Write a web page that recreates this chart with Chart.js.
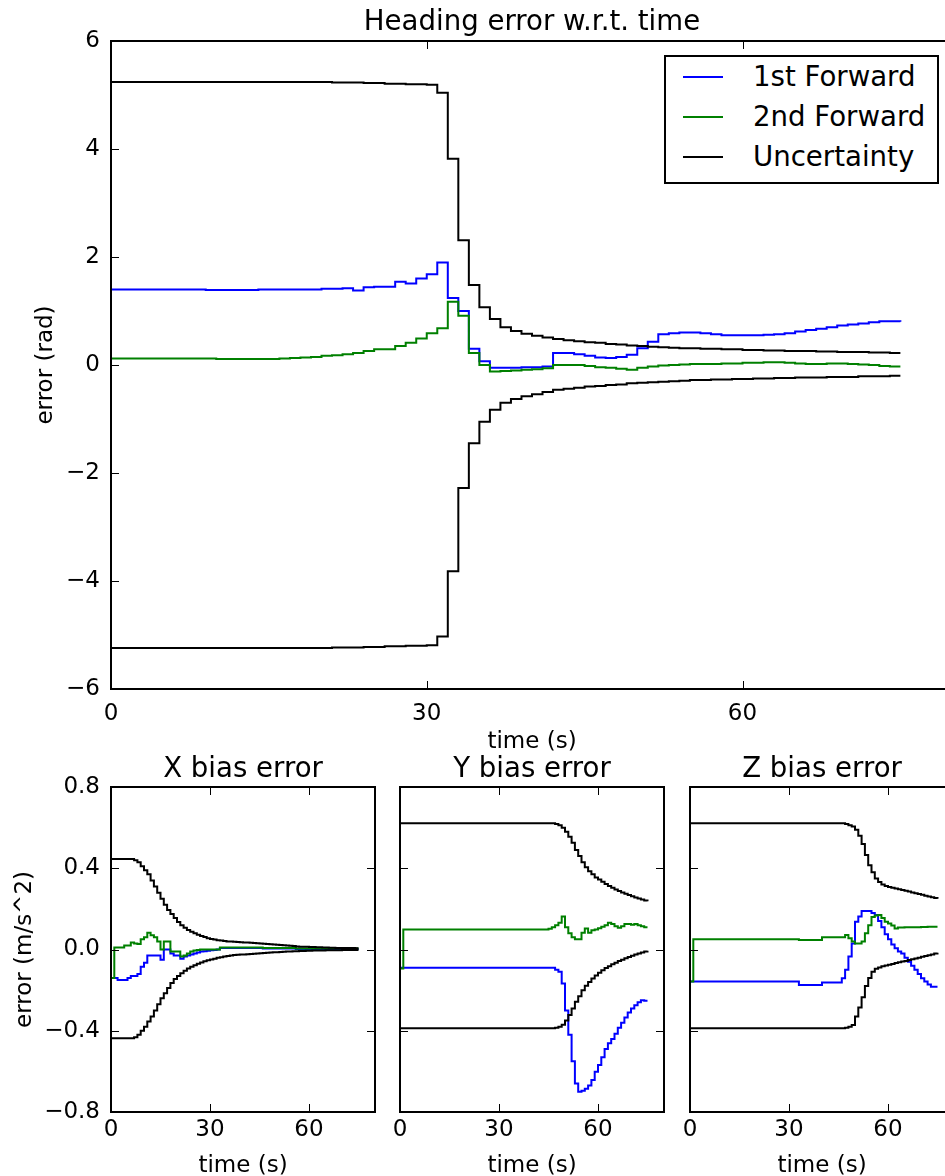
<!DOCTYPE html>
<html>
<head>
<meta charset="utf-8">
<script src="https://cdn.jsdelivr.net/npm/chart.js@4.4.1/dist/chart.umd.min.js"></script>
<style>
  html, body { margin: 0; padding: 0; background: #fff; }
  #wrap { position: relative; width: 945px; height: 1176px; overflow: hidden; background: #fff; font-family: 'DejaVu Sans', sans-serif; }
  canvas { position: absolute; }
  #legend { position: absolute; left: 664px; top: 55px; width: 271px; height: 125px; border: 2px solid #000; background: #fff; z-index: 10; }
  #legend .row { position: absolute; left: 0; width: 271px; height: 30px; }
  #legend .sample { position: absolute; left: 17px; width: 40px; top: 14px; height: 0; border-top: 2px solid #000; }
  #legend .txt { position: absolute; left: 87px; top: 0; height: 30px; line-height: 30px; font-size: 27.6px; color: #000; white-space: nowrap; }
</style>
</head>
<body>
<div id="wrap">
  <canvas id="cTop" width="1064" height="770" style="left:0;top:0;width:1064px;height:770px"></canvas>
  <canvas id="cX" width="486" height="440" style="left:0;top:745px;width:486px;height:440px"></canvas>
  <canvas id="cY" width="464" height="440" style="left:300px;top:745px;width:464px;height:440px"></canvas>
  <canvas id="cZ" width="464" height="440" style="left:590px;top:745px;width:464px;height:440px"></canvas>
  <div id="legend"></div>
</div>
<script>
// ---------------- DATA ----------------
const seriesNames = ['1st Forward', '2nd Forward', 'Uncertainty'];
const seriesColors = ['#0000ff', '#008000', '#000000'];
const plotTitles = ['Heading error w.r.t. time', 'X bias error', 'Y bias error', 'Z bias error'];
const xTicks = [0, 30, 60];
const topYTicks = [-6, -4, -2, 0, 2, 4, 6];
const biasYTicks = [-0.8, -0.4, 0.0, 0.4, 0.8];

const time = [
  0,1,2,3,4,5,6,7,8,9,10,11,12,13,14,15,16,17,18,19,
  20,21,22,23,24,25,26,27,28,29,30,31,32,33,34,35,36,37,38,39,
  40,41,42,43,44,45,46,47,48,49,50,51,52,53,54,55,56,57,58,59,
  60,61,62,63,64,65,66,67,68,69,70,71,72,73,74,75
];

// Heading error (rad)
const headBlue = [
  1.40,1.40,1.40,1.40,1.40,1.40,1.40,1.40,1.40,1.39,
  1.39,1.39,1.39,1.39,1.40,1.40,1.40,1.40,1.40,1.40,
  1.41,1.41,1.42,1.38,1.44,1.45,1.45,1.54,1.51,1.60,
  1.68,1.90,1.24,1.00,0.30,0.07,-0.05,-0.05,-0.05,-0.04,
  -0.04,-0.03,0.22,0.22,0.20,0.17,0.14,0.13,0.15,0.19,
  0.31,0.43,0.57,0.59,0.60,0.60,0.59,0.57,0.55,0.55,
  0.55,0.55,0.56,0.57,0.59,0.62,0.65,0.67,0.70,0.73,
  0.75,0.77,0.79,0.81,0.81,0.80
];
const headGreen = [
  0.12,0.12,0.12,0.12,0.12,0.12,0.12,0.12,0.12,0.12,
  0.11,0.11,0.11,0.11,0.11,0.11,0.12,0.13,0.14,0.15,
  0.17,0.18,0.20,0.22,0.26,0.29,0.29,0.35,0.41,0.49,
  0.59,0.68,1.17,0.91,0.22,0.00,-0.12,-0.11,-0.10,-0.09,
  -0.08,-0.06,0.00,0.00,0.00,-0.02,-0.04,-0.05,-0.07,-0.09,
  -0.05,-0.03,-0.01,0.00,0.01,0.02,0.02,0.02,0.03,0.03,
  0.04,0.04,0.05,0.05,0.04,0.03,0.02,0.02,0.03,0.03,
  0.02,0.01,0.00,-0.02,-0.03,-0.03
];
const headUpper = [
  5.24,5.24,5.24,5.24,5.24,5.24,5.24,5.24,5.24,5.24,
  5.24,5.24,5.24,5.24,5.24,5.24,5.24,5.24,5.24,5.24,
  5.24,5.23,5.23,5.23,5.22,5.22,5.21,5.21,5.20,5.20,
  5.19,5.04,3.82,2.31,1.48,1.07,0.85,0.70,0.63,0.58,
  0.54,0.51,0.48,0.46,0.44,0.42,0.41,0.39,0.38,0.36,
  0.35,0.34,0.33,0.32,0.31,0.31,0.30,0.30,0.29,0.29,
  0.28,0.28,0.27,0.27,0.26,0.26,0.26,0.25,0.25,0.24,
  0.24,0.24,0.23,0.23,0.22,0.22
];
const headLower = [
  -5.24,-5.24,-5.24,-5.24,-5.24,-5.24,-5.24,-5.24,-5.24,-5.24,
  -5.24,-5.24,-5.24,-5.24,-5.24,-5.24,-5.24,-5.24,-5.24,-5.24,
  -5.24,-5.23,-5.23,-5.23,-5.22,-5.22,-5.21,-5.21,-5.20,-5.20,
  -5.19,-5.03,-3.82,-2.28,-1.45,-1.05,-0.83,-0.70,-0.63,-0.58,
  -0.54,-0.50,-0.46,-0.44,-0.42,-0.40,-0.39,-0.37,-0.36,-0.34,
  -0.33,-0.32,-0.31,-0.30,-0.29,-0.28,-0.28,-0.27,-0.27,-0.26,
  -0.26,-0.25,-0.25,-0.24,-0.24,-0.23,-0.23,-0.23,-0.22,-0.22,
  -0.22,-0.21,-0.21,-0.21,-0.20,-0.20
];

// X bias error (m/s^2)
const xBlue = [
  -0.14,-0.14,-0.15,-0.15,-0.15,-0.14,-0.13,-0.13,-0.12,-0.085,
  -0.065,-0.03,-0.03,-0.03,-0.03,-0.05,0.00,0.00,-0.02,-0.03,
  -0.03,-0.045,-0.035,-0.03,-0.025,-0.02,-0.015,-0.01,-0.008,-0.006,
  -0.004,-0.003,0.00,0.008,0.008,0.008,0.008,0.008,0.008,0.008,
  0.008,0.008,0.008,0.008,0.008,0.008,0.005,0.005,0.005,0.005,
  0.005,0.005,0.005,0.005,0.005,0.005,0.002,0.002,0.002,0.002,
  0.002,0.002,0.002,0.002,0.002,0.002,0.002,0.002,0.002,0.002,
  0.002,0.002,0.002,0.002,0.002,0.002
];
const xGreen = [
  -0.14,0.01,0.01,0.01,0.02,0.02,0.034,0.03,0.027,0.05,
  0.06,0.083,0.07,0.06,0.04,0.00,0.04,0.04,-0.01,-0.01,
  -0.01,-0.035,-0.03,-0.02,-0.01,-0.005,-0.003,0.00,0.00,0.00,
  0.00,0.00,0.00,0.01,0.01,0.01,0.01,0.01,0.01,0.01,
  0.01,0.01,0.01,0.01,0.01,0.01,0.008,0.008,0.008,0.008,
  0.008,0.008,0.008,0.008,0.008,0.008,0.005,0.005,0.005,0.005,
  0.005,0.005,0.005,0.005,0.005,0.005,0.005,0.005,0.005,0.005,
  0.005,0.005,0.005,0.005,0.005,0.005
];
const xUpper = [
  0.446,0.446,0.446,0.446,0.446,0.446,0.446,0.44,0.43,0.41,
  0.39,0.37,0.34,0.31,0.28,0.25,0.22,0.195,0.175,0.155,
  0.135,0.12,0.107,0.096,0.088,0.08,0.073,0.067,0.061,0.056,
  0.052,0.049,0.046,0.044,0.042,0.040,0.039,0.038,0.037,0.036,
  0.035,0.034,0.033,0.032,0.031,0.030,0.028,0.027,0.026,0.025,
  0.024,0.022,0.021,0.020,0.018,0.017,0.015,0.014,0.013,0.013,
  0.012,0.012,0.011,0.011,0.010,0.010,0.009,0.009,0.008,0.008,
  0.008,0.007,0.007,0.007,0.006,0.006
];
const xLower = [
  -0.437,-0.437,-0.437,-0.437,-0.437,-0.437,-0.437,-0.432,-0.42,-0.40,
  -0.38,-0.355,-0.33,-0.30,-0.27,-0.24,-0.215,-0.19,-0.165,-0.145,
  -0.13,-0.117,-0.105,-0.094,-0.085,-0.077,-0.07,-0.064,-0.058,-0.053,
  -0.049,-0.045,-0.041,-0.038,-0.035,-0.032,-0.029,-0.027,-0.026,-0.025,
  -0.024,-0.023,-0.022,-0.021,-0.020,-0.019,-0.017,-0.016,-0.015,-0.014,
  -0.013,-0.012,-0.011,-0.010,-0.010,-0.009,-0.008,-0.007,-0.007,-0.006,
  -0.006,-0.005,-0.005,-0.005,-0.005,-0.004,-0.004,-0.004,-0.004,-0.004,
  -0.003,-0.003,-0.003,-0.003,-0.003,-0.003
];

// Y bias error (m/s^2)
const yBlue = [
  -0.09,-0.09,-0.09,-0.09,-0.09,-0.09,-0.09,-0.09,-0.09,-0.09,
  -0.09,-0.09,-0.09,-0.09,-0.09,-0.09,-0.09,-0.09,-0.09,-0.09,
  -0.09,-0.09,-0.09,-0.09,-0.09,-0.09,-0.09,-0.09,-0.09,-0.09,
  -0.09,-0.09,-0.09,-0.09,-0.09,-0.09,-0.09,-0.09,-0.09,-0.09,
  -0.09,-0.09,-0.09,-0.09,-0.09,-0.09,-0.09,-0.10,-0.11,-0.167,
  -0.30,-0.42,-0.55,-0.66,-0.70,-0.695,-0.685,-0.67,-0.643,-0.602,
  -0.569,-0.53,-0.49,-0.462,-0.44,-0.415,-0.385,-0.36,-0.335,-0.31,
  -0.29,-0.275,-0.26,-0.25,-0.252,-0.252
];
const yGreen = [
  -0.093,0.099,0.099,0.099,0.099,0.099,0.099,0.099,0.099,0.099,
  0.099,0.099,0.099,0.099,0.099,0.099,0.099,0.099,0.099,0.099,
  0.099,0.099,0.099,0.099,0.099,0.099,0.099,0.099,0.099,0.099,
  0.099,0.099,0.099,0.099,0.099,0.099,0.099,0.099,0.099,0.099,
  0.099,0.099,0.099,0.099,0.099,0.102,0.109,0.12,0.132,0.162,
  0.11,0.08,0.06,0.05,0.05,0.083,0.104,0.083,0.095,0.099,
  0.105,0.112,0.12,0.132,0.125,0.115,0.107,0.115,0.125,0.125,
  0.122,0.125,0.12,0.115,0.109,0.109
];
const yUpper = [
  0.621,0.621,0.621,0.621,0.621,0.621,0.621,0.621,0.621,0.621,
  0.621,0.621,0.621,0.621,0.621,0.621,0.621,0.621,0.621,0.621,
  0.621,0.621,0.621,0.621,0.621,0.621,0.621,0.621,0.621,0.621,
  0.621,0.621,0.621,0.621,0.621,0.621,0.621,0.621,0.621,0.621,
  0.621,0.621,0.621,0.621,0.621,0.621,0.621,0.618,0.612,0.60,
  0.58,0.555,0.525,0.49,0.46,0.43,0.405,0.385,0.37,0.355,
  0.345,0.333,0.322,0.313,0.304,0.296,0.288,0.281,0.274,0.268,
  0.262,0.256,0.251,0.246,0.241,0.238
];
const yLower = [
  -0.388,-0.388,-0.388,-0.388,-0.388,-0.388,-0.388,-0.388,-0.388,-0.388,
  -0.388,-0.388,-0.388,-0.388,-0.388,-0.388,-0.388,-0.388,-0.388,-0.388,
  -0.388,-0.388,-0.388,-0.388,-0.388,-0.388,-0.388,-0.388,-0.388,-0.388,
  -0.388,-0.388,-0.388,-0.388,-0.388,-0.388,-0.388,-0.388,-0.388,-0.388,
  -0.388,-0.388,-0.388,-0.388,-0.388,-0.388,-0.388,-0.385,-0.38,-0.37,
  -0.35,-0.322,-0.29,-0.257,-0.23,-0.20,-0.178,-0.16,-0.143,-0.128,
  -0.114,-0.102,-0.091,-0.082,-0.073,-0.065,-0.057,-0.05,-0.043,-0.037,
  -0.031,-0.025,-0.02,-0.015,-0.01,-0.006
];

// Z bias error (m/s^2)
const zBlue = [
  -0.158,-0.158,-0.158,-0.158,-0.158,-0.158,-0.158,-0.158,-0.158,-0.158,
  -0.158,-0.158,-0.158,-0.158,-0.158,-0.158,-0.158,-0.158,-0.158,-0.158,
  -0.158,-0.158,-0.158,-0.158,-0.158,-0.158,-0.158,-0.158,-0.158,-0.158,
  -0.158,-0.158,-0.158,-0.175,-0.175,-0.175,-0.175,-0.175,-0.175,-0.175,
  -0.163,-0.163,-0.163,-0.163,-0.163,-0.163,-0.142,-0.10,-0.035,0.03,
  0.137,0.162,0.19,0.19,0.19,0.18,0.17,0.14,0.11,0.075,
  0.05,0.025,0.006,-0.01,-0.02,-0.04,-0.06,-0.08,-0.10,-0.12,
  -0.142,-0.158,-0.172,-0.183,-0.183,-0.183
];
const zGreen = [
  -0.158,0.05,0.05,0.05,0.05,0.05,0.05,0.05,0.05,0.05,
  0.05,0.05,0.05,0.05,0.05,0.05,0.05,0.05,0.05,0.05,
  0.05,0.05,0.05,0.05,0.05,0.05,0.05,0.05,0.05,0.05,
  0.05,0.05,0.05,0.047,0.047,0.047,0.047,0.047,0.047,0.047,
  0.06,0.06,0.06,0.06,0.06,0.06,0.06,0.071,0.055,0.04,
  0.03,0.03,0.039,0.08,0.12,0.16,0.168,0.17,0.155,0.137,
  0.128,0.118,0.104,0.108,0.108,0.109,0.109,0.11,0.11,0.11,
  0.111,0.111,0.112,0.112,0.112,0.112
];
const zUpper = [
  0.621,0.621,0.621,0.621,0.621,0.621,0.621,0.621,0.621,0.621,
  0.621,0.621,0.621,0.621,0.621,0.621,0.621,0.621,0.621,0.621,
  0.621,0.621,0.621,0.621,0.621,0.621,0.621,0.621,0.621,0.621,
  0.621,0.621,0.621,0.621,0.621,0.621,0.621,0.621,0.621,0.621,
  0.621,0.621,0.621,0.621,0.621,0.621,0.621,0.618,0.612,0.605,
  0.59,0.56,0.52,0.465,0.415,0.38,0.35,0.332,0.32,0.313,
  0.308,0.304,0.300,0.297,0.293,0.289,0.285,0.281,0.277,0.273,
  0.269,0.265,0.261,0.257,0.253,0.25
];
const zLower = [
  -0.388,-0.388,-0.388,-0.388,-0.388,-0.388,-0.388,-0.388,-0.388,-0.388,
  -0.388,-0.388,-0.388,-0.388,-0.388,-0.388,-0.388,-0.388,-0.388,-0.388,
  -0.388,-0.388,-0.388,-0.388,-0.388,-0.388,-0.388,-0.388,-0.388,-0.388,
  -0.388,-0.388,-0.388,-0.388,-0.388,-0.388,-0.388,-0.388,-0.388,-0.388,
  -0.388,-0.388,-0.388,-0.388,-0.388,-0.388,-0.388,-0.385,-0.38,-0.372,
  -0.33,-0.285,-0.235,-0.18,-0.14,-0.11,-0.095,-0.088,-0.083,-0.079,
  -0.075,-0.071,-0.067,-0.063,-0.059,-0.056,-0.052,-0.048,-0.044,-0.040,
  -0.036,-0.032,-0.028,-0.024,-0.020,-0.016
];

// ---------------- RENDERING ----------------
Chart.defaults.font.family = "'DejaVu Sans'";
Chart.defaults.color = '#000';
Chart.defaults.animation = false;

const BASE = 23, LARGE = 27.6;
const minus = s => String(s).replace('-', '\u2212');

// matplotlib-like frame with inward ticks on all four sides
const mplFrame = {
  id: 'mplFrame',
  afterDatasetsDraw(chart) {
    const ctx = chart.ctx, a = chart.chartArea;
    const xs = chart.scales.x, ys = chart.scales.y;
    ctx.save();
    ctx.strokeStyle = '#000';
    ctx.lineWidth = 1;
    ctx.beginPath();
    xs.ticks.forEach(t => {
      const p = Math.round(xs.getPixelForValue(t.value)) + 0.5;
      ctx.moveTo(p, a.bottom); ctx.lineTo(p, a.bottom - 8);
      ctx.moveTo(p, a.top); ctx.lineTo(p, a.top + 8);
    });
    ys.ticks.forEach(t => {
      const p = Math.round(ys.getPixelForValue(t.value)) + 0.5;
      ctx.moveTo(a.left, p); ctx.lineTo(a.left + 8, p);
      ctx.moveTo(a.right, p); ctx.lineTo(a.right - 8, p);
    });
    ctx.stroke();
    ctx.lineWidth = 2;
    ctx.strokeRect(a.left, a.top, a.right - a.left, a.bottom - a.top);
    ctx.restore();
  }
};

function line(ys, idx, order) {
  return {
    label: seriesNames[idx],
    data: time.map((t, i) => ({ x: t, y: ys[i] })),
    borderColor: seriesColors[idx],
    backgroundColor: seriesColors[idx],
    borderWidth: 2,
    pointRadius: 0,
    stepped: true,
    fill: false,
    order: order
  };
}

function makeChart(id, cfg) {
  return new Chart(document.getElementById(id), {
    type: 'line',
    data: { datasets: cfg.datasets },
    options: {
      responsive: false,
      maintainAspectRatio: false,
      devicePixelRatio: 1,
      animation: false,
      layout: { padding: { left: 0, right: cfg.padRight, top: 0, bottom: 0 } },
      plugins: {
        legend: { display: false },
        tooltip: { enabled: false },
        title: {
          display: true, text: cfg.title, color: '#000', fullSize: false,
          font: { size: LARGE, weight: 'normal' },
          padding: { top: cfg.titleTop, bottom: cfg.titleBottom }
        }
      },
      scales: {
        x: {
          type: 'linear', min: 0, max: 80,
          grid: { display: false, drawTicks: false },
          border: { display: false },
          afterBuildTicks: s => { s.ticks = xTicks.map(v => ({ value: v })); },
          ticks: {
            display: true, padding: cfg.xTickPad, font: { size: BASE }, color: '#000',
            maxRotation: 0, autoSkip: false, callback: v => minus(v)
          },
          title: {
            display: true, text: 'time (s)', color: '#000', font: { size: BASE },
            padding: { top: 0, bottom: cfg.xTitlePad }
          },
          afterFit: s => { s.height = cfg.xHeight; }
        },
        y: {
          type: 'linear', min: cfg.yMin, max: cfg.yMax,
          grid: { display: false, drawTicks: false },
          border: { display: false },
          afterBuildTicks: s => { s.ticks = cfg.yTicks.map(v => ({ value: v })); },
          ticks: {
            display: cfg.yLabels, padding: 11, font: { size: BASE }, color: '#000',
            autoSkip: false, callback: cfg.yFmt
          },
          title: {
            display: !!cfg.yTitle, text: cfg.yTitle || '', color: '#000', font: { size: BASE },
            padding: { top: cfg.yTitlePad || 0, bottom: 0 }
          },
          afterFit: s => { s.width = cfg.yWidth; }
        }
      }
    },
    plugins: [mplFrame]
  });
}

const fmtInt = v => minus(v);
const fmt1 = v => minus((Math.abs(v) < 1e-9 ? 0 : v).toFixed(1));

makeChart('cTop', {
  title: plotTitles[0], titleTop: 6.2, titleBottom: 1.68,
  datasets: [line(headBlue, 0, 3), line(headGreen, 1, 2), line(headUpper, 2, 1), line(headLower, 2, 1)],
  padRight: 111, xTickPad: 11, xTitlePad: 14.5, xHeight: 81,
  yMin: -6, yMax: 6, yTicks: topYTicks, yLabels: true, yFmt: fmtInt,
  yTitle: 'error (rad)', yTitlePad: 32.2, yWidth: 111
});

makeChart('cX', {
  title: plotTitles[1], titleTop: 8.2, titleBottom: 0.68,
  datasets: [line(xBlue, 0, 3), line(xGreen, 1, 2), line(xUpper, 2, 1), line(xLower, 2, 1)],
  padRight: 111, xTickPad: 4.4, xTitlePad: 5.5, xHeight: 73,
  yMin: -0.8, yMax: 0.8, yTicks: biasYTicks, yLabels: true, yFmt: fmt1,
  yTitle: 'error (m/s^2)', yTitlePad: 11.2, yWidth: 111
});

makeChart('cY', {
  title: plotTitles[2], titleTop: 8.2, titleBottom: 0.68,
  datasets: [line(yBlue, 0, 3), line(yGreen, 1, 2), line(yUpper, 2, 1), line(yLower, 2, 1)],
  padRight: 100, xTickPad: 4.4, xTitlePad: 5.5, xHeight: 73,
  yMin: -0.8, yMax: 0.8, yTicks: biasYTicks, yLabels: false, yFmt: fmt1,
  yTitle: null, yWidth: 100
});

makeChart('cZ', {
  title: plotTitles[3], titleTop: 8.2, titleBottom: 0.68,
  datasets: [line(zBlue, 0, 3), line(zGreen, 1, 2), line(zUpper, 2, 1), line(zLower, 2, 1)],
  padRight: 100, xTickPad: 4.4, xTitlePad: 5.5, xHeight: 73,
  yMin: -0.8, yMax: 0.8, yTicks: biasYTicks, yLabels: false, yFmt: fmt1,
  yTitle: null, yWidth: 100
});

// legend (one entry per series name)
const legend = document.getElementById('legend');
seriesNames.forEach((name, i) => {
  const row = document.createElement('div');
  row.className = 'row';
  row.style.top = (5 + 40 * i) + 'px';
  const s = document.createElement('div');
  s.className = 'sample';
  s.style.borderTopColor = seriesColors[i];
  const t = document.createElement('div');
  t.className = 'txt';
  t.textContent = name;
  row.appendChild(s); row.appendChild(t);
  legend.appendChild(row);
});
</script>
</body>
</html>
